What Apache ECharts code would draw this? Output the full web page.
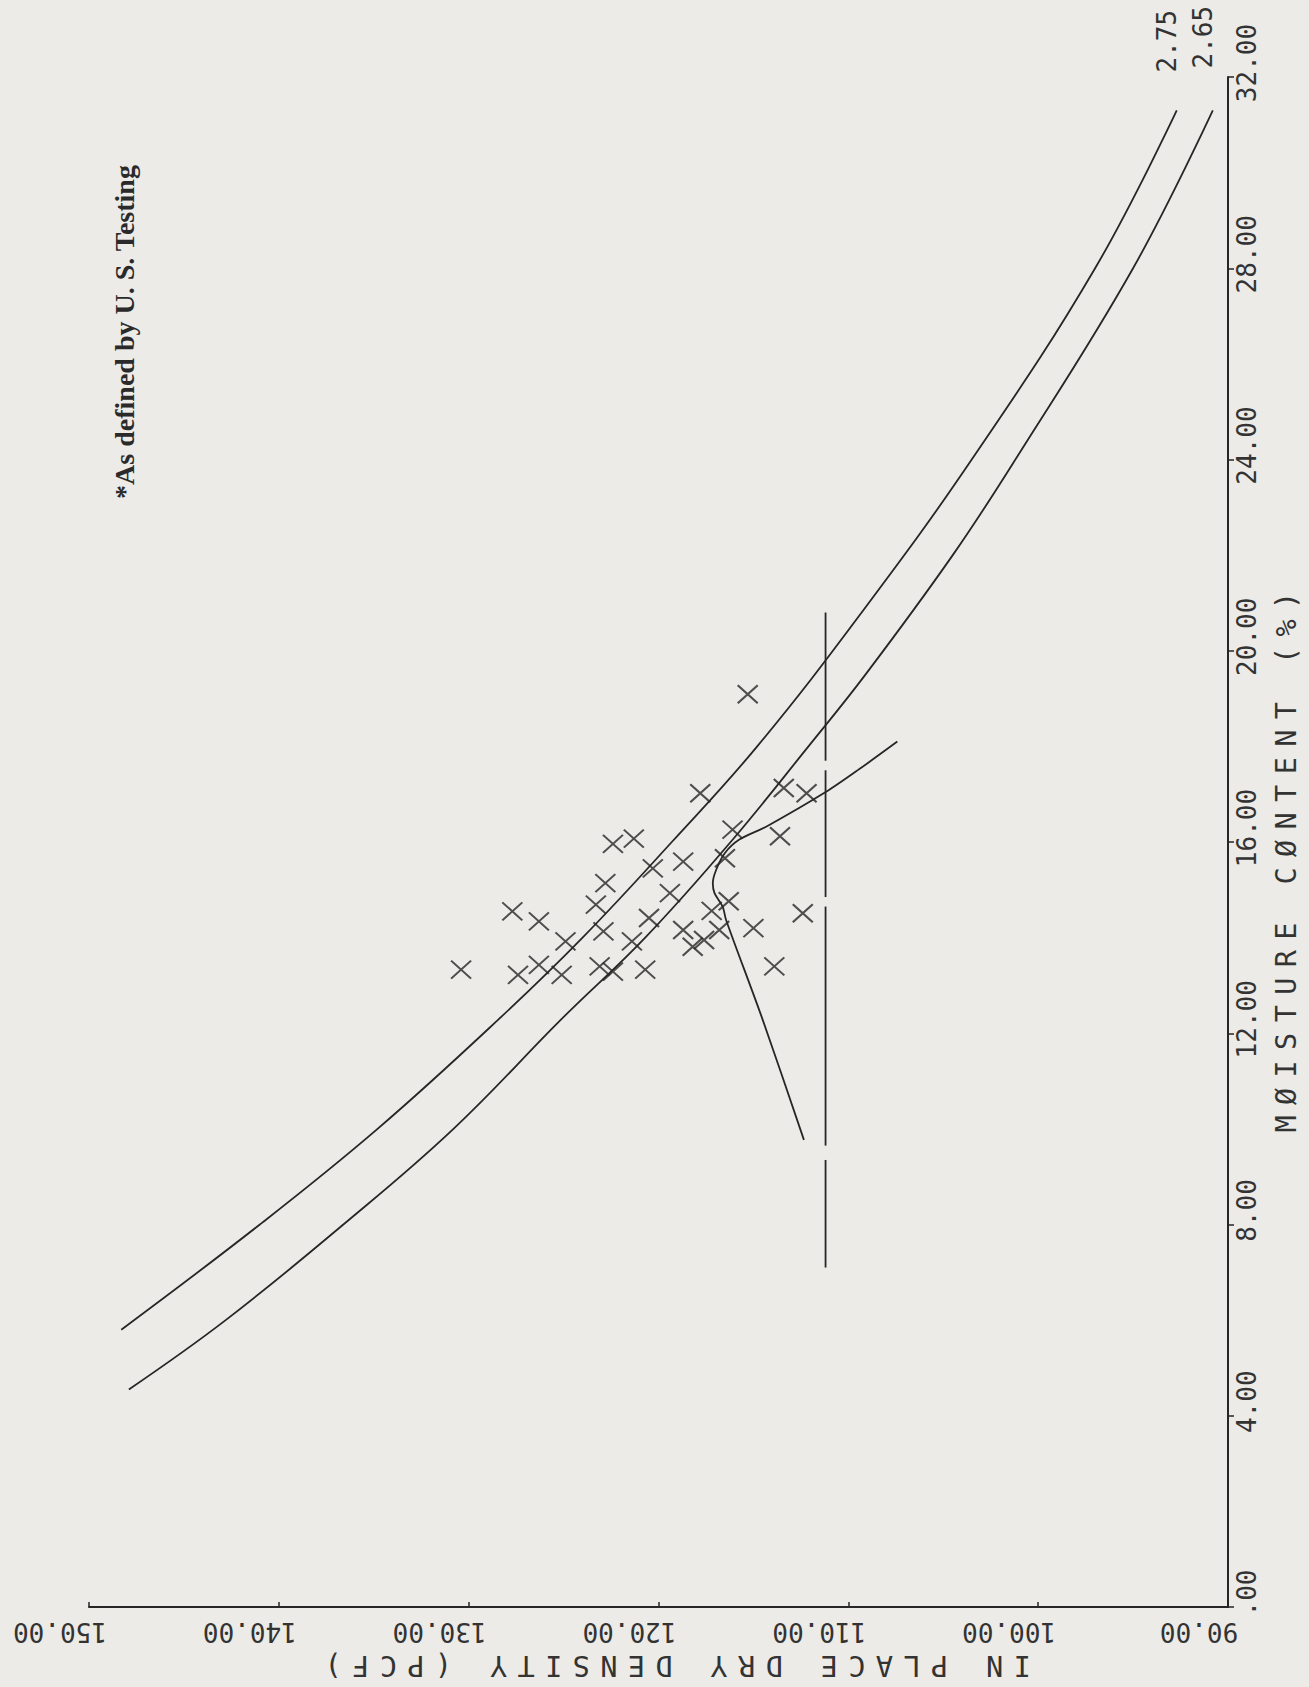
<!DOCTYPE html>
<html><head><meta charset="utf-8">
<script src="https://cdn.jsdelivr.net/npm/echarts@6/dist/echarts.min.js"></script>
<style>
html,body{margin:0;padding:0;background:#ecebe8;}
#c{width:1309px;height:1687px;}
#c svg text[style*="28.5px"]{letter-spacing:10.4px;}
</style></head><body><div id="c"></div>
<script>
// ---- data (x = in-place dry density, pcf ; y = moisture content, %) ----
const densityTicks = [90, 100, 110, 120, 130, 140, 150];
const densityTickLabels = ['90.00', '100.00', '110.00', '120.00', '130.00', '140.00', '150.00'];
const moistureTicks = [0, 4, 8, 12, 16, 20, 24, 28, 32];
const moistureTickLabels = ['.00', '4.00', '8.00', '12.00', '16.00', '20.00', '24.00', '28.00', '32.00'];

const curveLabels = ['2.75', '2.65'];
const curve275Moisture = [5.8, 8, 10, 12.3, 14, 16, 18, 20.8, 24, 28, 31.3];
const curve275Density  = [148.3, 141.0, 134.8, 128.4, 124.0, 119.3, 114.8, 109.3, 103.5, 97.0, 92.7];
const curve265Moisture = [4.55, 6, 8, 10, 12.3, 14, 16, 18, 19.5, 22, 24, 28, 31.3];
const curve265Density  = [147.9, 142.8, 136.6, 130.8, 125.1, 120.7, 116.2, 112.1, 109.1, 104.5, 101.2, 95.0, 90.8];

const compactionMoisture = [9.77, 12.28, 14.37, 14.65, 14.93, 15.14, 15.42, 15.77, 16.05, 16.32, 17.05, 17.53, 18.10];
const compactionDensity  = [112.34, 114.51, 116.44, 116.62, 117.05, 117.14, 116.96, 116.5, 115.74, 114.33, 111.17, 109.4, 107.42];

// vertical limit line at 111.2 pcf, drawn as broken segments (start/end moisture pairs)
const specDensity = 111.2;
const specSegmentStart = [7.1, 9.65, 14.85, 17.7];
const specSegmentEnd   = [9.35, 14.65, 17.5, 20.8];

const testMoisture = [19.09, 17.02, 17.13, 17.02, 16.26, 16.12, 15.96, 16.07, 15.45, 15.59, 15.66, 15.14, 14.93,
  14.55, 14.34, 14.69, 14.41, 14.76, 14.51, 14.56, 13.92, 14.13, 13.92, 14.16, 13.81, 13.95, 14.16, 14.20,
  13.33, 13.22, 13.43, 13.22, 13.40, 13.29, 13.33, 13.40];
const testDensity = [115.3, 117.8, 113.4, 112.2, 116.1, 113.6, 122.4, 121.3, 120.3, 118.7, 116.5, 122.8, 119.4,
  127.7, 126.3, 123.3, 120.5, 116.3, 112.4, 117.2, 124.9, 122.9, 121.4, 118.7, 118.2, 117.6, 116.8, 115.0,
  130.4, 127.4, 126.3, 125.1, 123.1, 122.4, 120.7, 113.9];

const noteText = '*As defined by U. S. Testing';

// ---- chart ----
const ink = '#262626';
const mono = 'DejaVu Sans Mono';
const zip = (xs, ys) => xs.map((x, i) => [x, ys[i]]);

const chart = echarts.init(document.getElementById('c'), null, {renderer: 'svg'});
const lineStyle = {color: ink, width: 1.8};

const specSeries = specSegmentStart.map((m0, i) => ({
  name: 'spec', type: 'line', symbol: 'none', lineStyle: lineStyle,
  data: [[specDensity, m0], [specDensity, specSegmentEnd[i]]]
}));

chart.setOption({
  backgroundColor: '#ecebe8',
  animation: false,
  grid: {left: 89, right: 80, top: 77, bottom: 80, containLabel: false},
  xAxis: {
    type: 'value', min: 90, max: 150, interval: 10, inverse: true, position: 'bottom',
    axisLine: {show: true, onZero: false, lineStyle: {color: ink, width: 2}},
    axisTick: {show: true, inside: true, length: 5, lineStyle: {color: ink, width: 1.5}},
    splitLine: {show: false},
    axisLabel: {
      rotate: 180, margin: 12, color: '#333', fontFamily: mono, fontSize: 26,
      padding: [0, 0, 0, 58], hideOverlap: false, interval: 0,
      formatter: v => densityTickLabels[densityTicks.indexOf(v)]
    },
    name: 'IN PLACE DRY DENSITY (PCF)', nameLocation: 'middle', nameRotate: 180, nameGap: 44,
    nameTextStyle: {color: '#333', fontFamily: mono, fontSize: 28.5, padding: [0, 28, 0, 0]}
  },
  yAxis: {
    type: 'value', min: 0, max: 32, interval: 4, position: 'right',
    axisLine: {show: true, onZero: false, lineStyle: {color: ink, width: 2}},
    axisTick: {show: true, length: 6, lineStyle: {color: ink, width: 1.5}},
    splitLine: {show: false},
    axisLabel: {
      rotate: 90, margin: 6, color: '#333', fontFamily: mono, fontSize: 26,
      padding: [0, 0, 0, 28], hideOverlap: false, interval: 0,
      formatter: v => moistureTickLabels[moistureTicks.indexOf(v)]
    },
    name: 'MØISTURE CØNTENT (%)', nameLocation: 'middle', nameRotate: 90, nameGap: 44,
    nameTextStyle: {color: '#333', fontFamily: mono, fontSize: 28.5, padding: [0, 30, 0, 0]}
  },
  series: [
    {name: curveLabels[0], type: 'line', data: zip(curve275Density, curve275Moisture), smooth: 0.4,
      symbol: 'none', lineStyle: lineStyle},
    {name: curveLabels[1], type: 'line', data: zip(curve265Density, curve265Moisture), smooth: 0.4,
      symbol: 'none', lineStyle: lineStyle},
    {name: 'compaction', type: 'line', data: zip(compactionDensity, compactionMoisture), smooth: 0.3,
      symbol: 'none', lineStyle: lineStyle},
    ...specSeries,
    {name: 'tests', type: 'scatter', data: zip(testDensity, testMoisture),
      symbol: 'path://M0 0L20 20M20 0L0 20', symbolSize: [20, 18],
      itemStyle: {color: 'rgba(0,0,0,0)', borderColor: ink, borderWidth: 2}}
  ]
});

// labels at the ends of the two curves + note text
const endA = chart.convertToPixel({gridIndex: 0}, [curve275Density[curve275Density.length - 1], curve275Moisture[curve275Moisture.length - 1]]);
const endB = chart.convertToPixel({gridIndex: 0}, [curve265Density[curve265Density.length - 1], curve265Moisture[curve265Moisture.length - 1]]);
const labelStyle = {font: '26px "DejaVu Sans Mono"', fill: '#333', align: 'left', verticalAlign: 'middle'};
chart.setOption({
  graphic: [
    {type: 'text', x: endA[0] - 10, y: endA[1] - 38, rotation: Math.PI / 2, style: Object.assign({text: curveLabels[0]}, labelStyle)},
    {type: 'text', x: endB[0] - 10, y: endB[1] - 42, rotation: Math.PI / 2, style: Object.assign({text: curveLabels[1]}, labelStyle)},
    {type: 'text', x: 124, y: 332, rotation: Math.PI / 2,
      style: {text: noteText, font: 'bold 28px "Liberation Serif"', fill: '#2a2a2a', align: 'center', verticalAlign: 'middle'}}
  ]
});
</script></body></html>
